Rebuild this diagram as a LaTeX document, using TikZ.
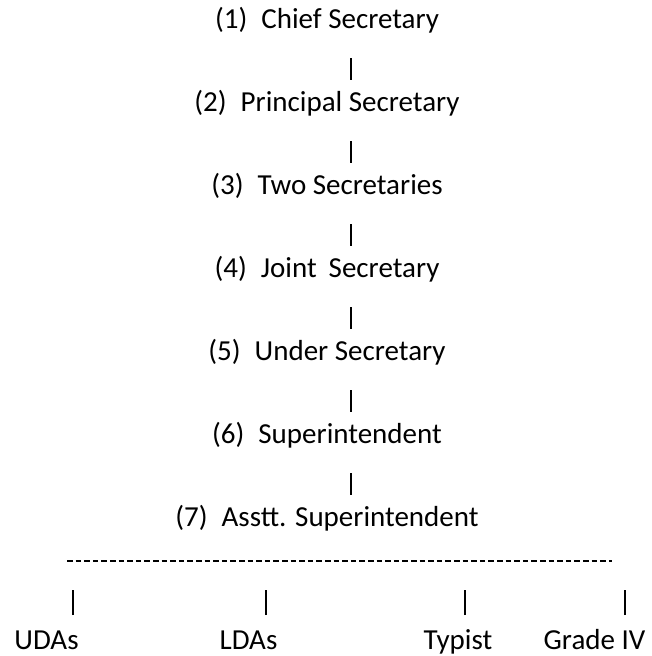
\documentclass[tikz,border=0pt]{standalone}
\usepackage{fontspec}
\setmainfont{Carlito}
\begin{document}
\begin{tikzpicture}[x=1pt, y=1pt, font=\fontsize{29}{35}\selectfont,
		rank/.style={anchor=base, inner sep=0pt},
		link/.style={line width=1.8pt}]
		\useasboundingbox (0,0) rectangle (652,-656);
		% the chain of officers
		\node[rank] (cs) at (327,-28) {(1)\hspace{14pt}Chief Secretary};
		\node[rank] (ps) at (327,-111) {(2)\hspace{14pt}Principal Secretary};
		\node[rank] (ts) at (327,-194) {(3)\hspace{14pt}Two Secretaries};
		\node[rank] (js) at (327,-277) {(4)\hspace{14pt}Joint\hspace{12pt}Secretary};
		\node[rank] (us) at (327,-360) {(5)\hspace{14pt}Under Secretary};
		\node[rank] (si) at (327,-443) {(6)\hspace{14pt}Superintendent};
		\node[rank] (as) at (327,-526) {(7)\hspace{14pt}Asstt. Superintendent};
		\draw[link] ([xshift=24pt,yshift=-30pt]cs.base) -- ([xshift=24pt,yshift=31pt]ps.base);
		\draw[link] ([xshift=24pt,yshift=-30pt]ps.base) -- ([xshift=24pt,yshift=31pt]ts.base);
		\draw[link] ([xshift=24pt,yshift=-30pt]ts.base) -- ([xshift=24pt,yshift=31pt]js.base);
		\draw[link] ([xshift=24pt,yshift=-30pt]js.base) -- ([xshift=24pt,yshift=31pt]us.base);
		\draw[link] ([xshift=24pt,yshift=-30pt]us.base) -- ([xshift=24pt,yshift=31pt]si.base);
		\draw[link] ([xshift=24pt,yshift=-30pt]si.base) -- ([xshift=24pt,yshift=31pt]as.base);
		% dashed rule over the staff
		\coordinate (busl) at (67,-561);
		\coordinate (busr) at (612,-561);
		\draw[line width=1.9pt, dash pattern=on 5.6pt off 3pt] (busl) -- (busr);
		\node[rank] (uda) at (46.5,-649) {UDAs};
		\node[rank] (lda) at (248.5,-649) {LDAs};
		\node[rank] (typ) at (458,-649) {Typist};
		\node[rank] (grd) at (594.5,-649) {Grade IV};
		\draw[link] ([xshift=26.5pt,yshift=34pt]uda.base) -- ++(0,25);
		\draw[link] ([xshift=17.5pt,yshift=34pt]lda.base) -- ++(0,25);
		\draw[link] ([xshift=7pt,yshift=34pt]typ.base) -- ++(0,25);
		\draw[link] ([xshift=30.5pt,yshift=34pt]grd.base) -- ++(0,25);
\end{tikzpicture}
\end{document}
